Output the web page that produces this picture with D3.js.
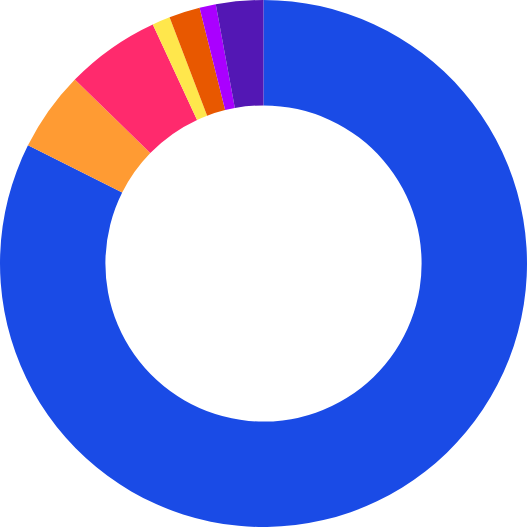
<!DOCTYPE html>
<html>
<head>
<meta charset="utf-8">
<script src="https://cdn.jsdelivr.net/npm/d3@7.9.0/dist/d3.min.js"></script>
<style>
  html, body { margin: 0; padding: 0; background: #fff; }
  svg { display: block; }
</style>
</head>
<body>
<svg width="527" height="527"></svg>
<script>
// slices, clockwise from 12 o'clock (shares in per mille)
const categories = ["A", "B", "C", "D", "E", "F", "G"];
const values = [824, 49, 58, 11, 19, 10, 29];
const colors = ["#1a4be6", "#ff9b33", "#ff2a6d", "#ffe74c", "#e85800", "#aa00ff", "#5317b4"];

const width = 527, height = 527;
const outer = 263.5, inner = outer * 0.6;

const data = categories.map((c, i) => ({ name: c, value: values[i], color: colors[i] }));

const svg = d3.select("svg")
  .append("g")
  .attr("transform", `translate(${width / 2},${height / 2})`);

const pie = d3.pie()
  .value((d) => d.value)
  .sort(null);

const arc = d3.arc()
  .innerRadius(inner)
  .outerRadius(outer);

svg.selectAll("path")
  .data(pie(data))
  .join("path")
  .attr("d", arc)
  .attr("fill", (d) => d.data.color);
</script>
</body>
</html>
